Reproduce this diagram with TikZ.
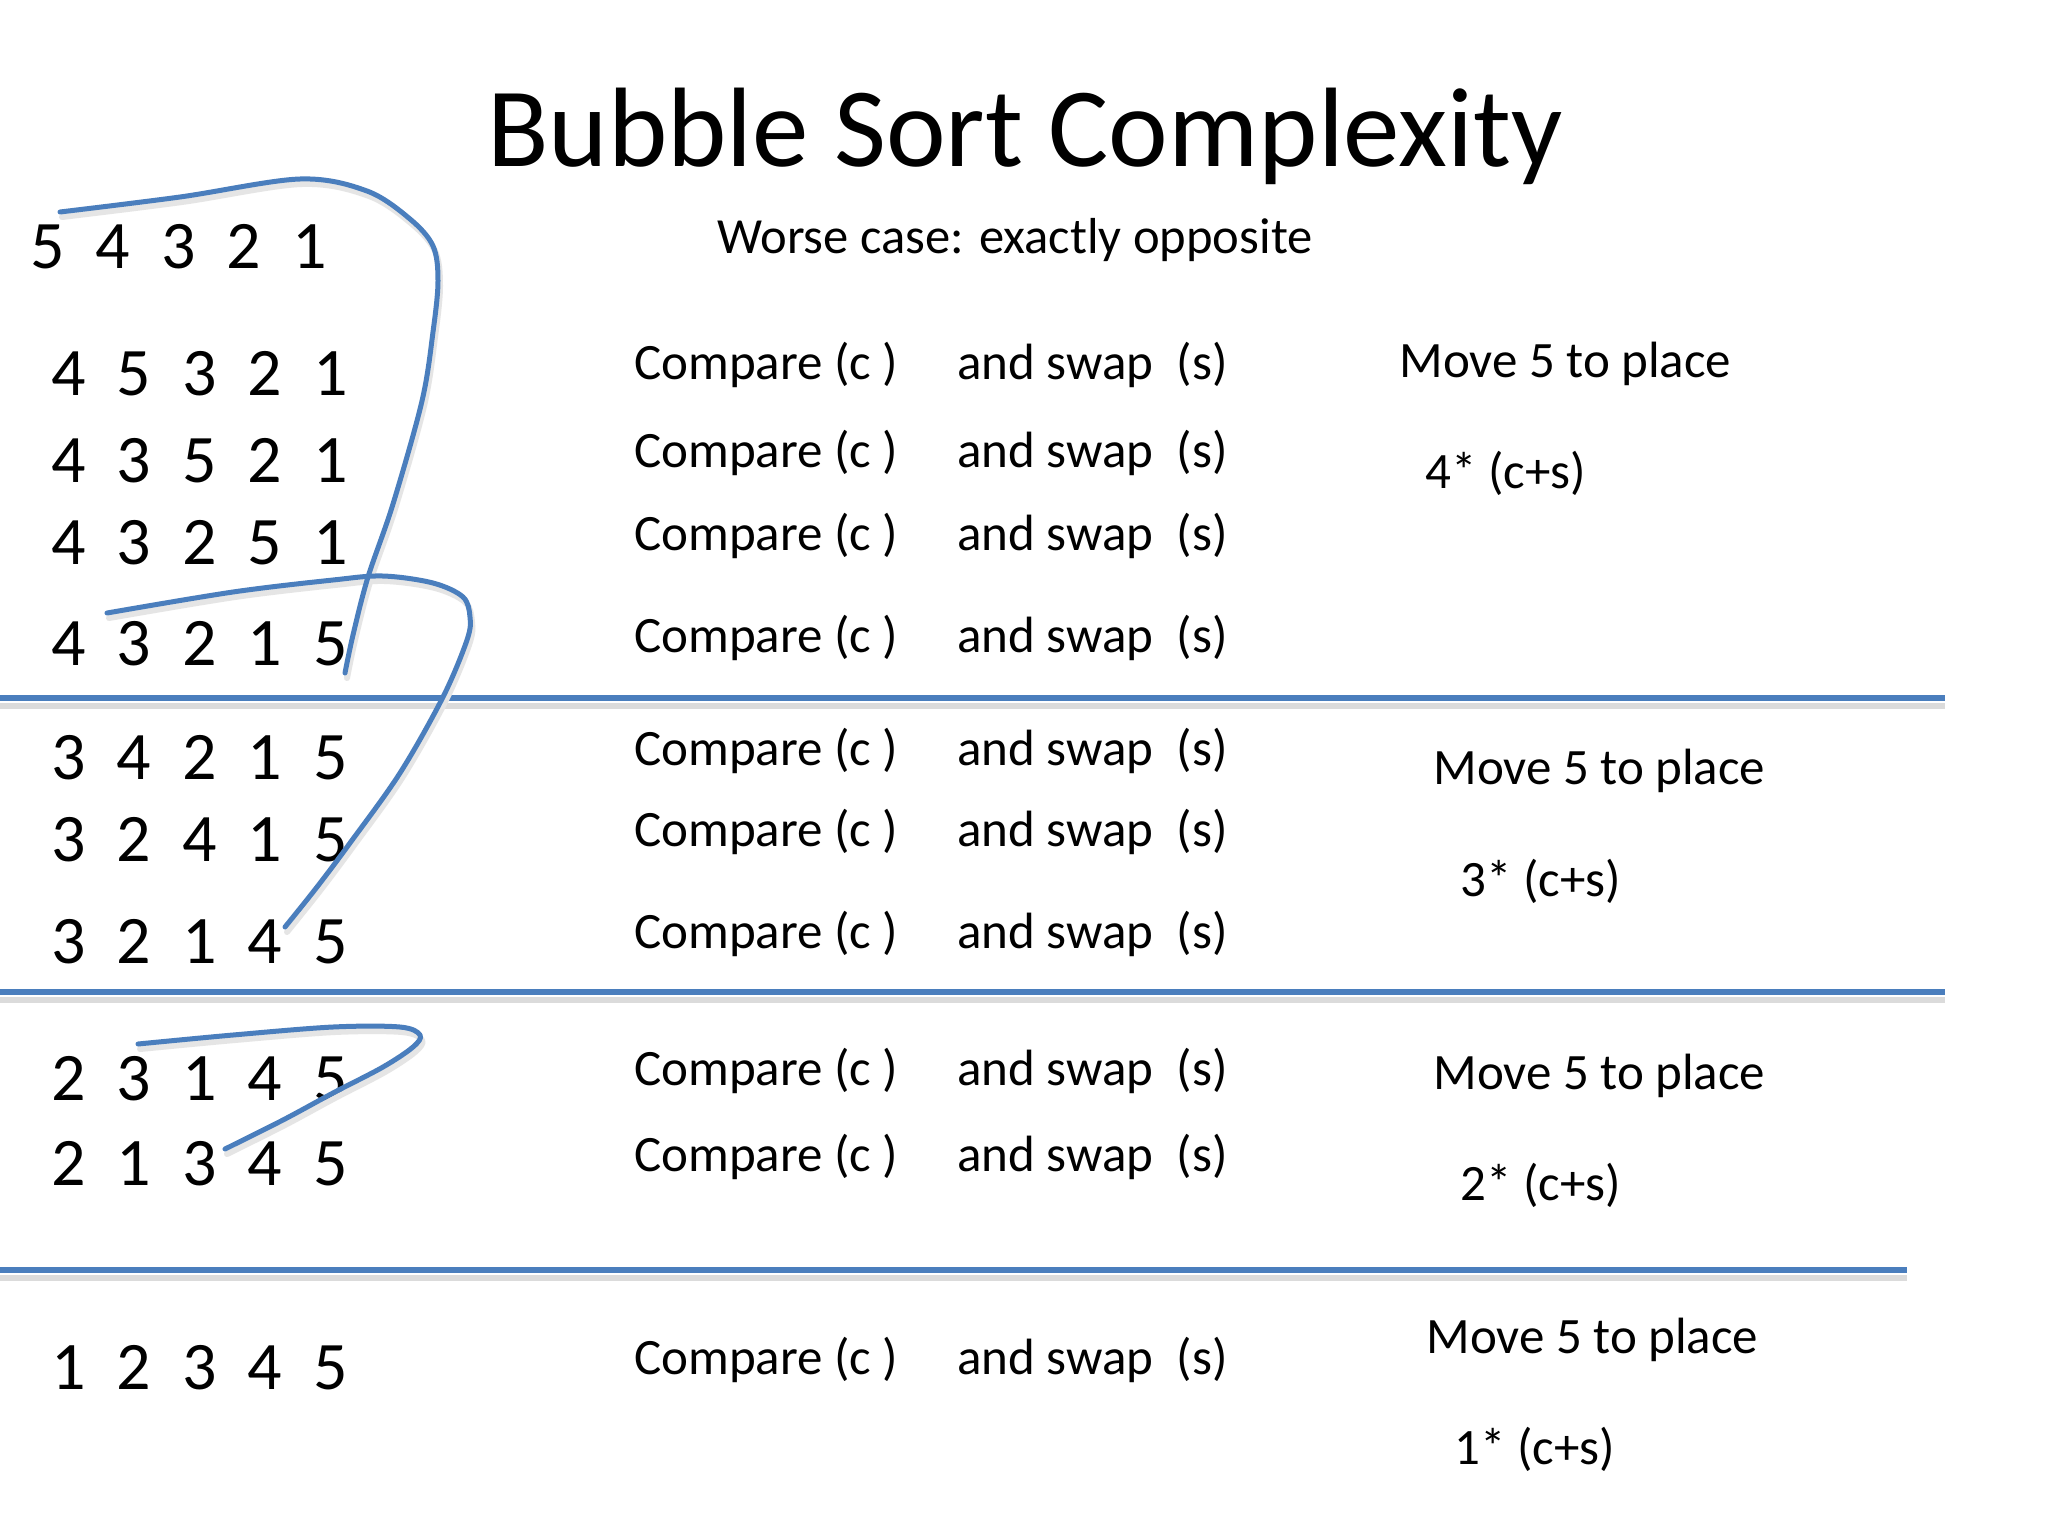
\documentclass[tikz,border=0pt]{standalone}
\usepackage{fontspec}
\setmainfont{Carlito}
\definecolor{lineblue}{RGB}{74,126,189}
\newcommand\dg{\hspace{15.5pt}}
\newcommand\drow[5]{#1\dg#2\dg#3\dg#4\dg#5}
\begin{document}
\begin{tikzpicture}[x=0.5pt,y=-0.5pt,
  txt/.style={inner sep=0pt, anchor=base west, font=\fontsize{25.5pt}{30pt}\selectfont},
  dig/.style={inner sep=0pt, anchor=base west, font=\fontsize{34pt}{40pt}\selectfont},
  sepline/.style={draw=lineblue, line width=2.6pt},
  sepshadow/.style={draw=black!14, line width=3pt},
  stroke/.style={draw=lineblue, line width=2.5pt, line cap=round, line join=round},
  strokeshadow/.style={draw=black!10, line width=3pt, line cap=round, line join=round}]
\useasboundingbox[fill=white] (0,0) rectangle (2048,1536);

% title
\node[inner sep=0pt, anchor=base, font=\fontsize{56.5pt}{60pt}\selectfont] (title) at (1025,166) {Bubble Sort Complexity};
\node[inner sep=0pt, anchor=base west, font=\fontsize{25.3pt}{30pt}\selectfont] (sub) at (717,253) {Worse case: exactly opposite};

% separators
\draw[sepshadow] (0,706) -- (1945,706);
\draw[sepline] (0,698) -- (1945,698);
\draw[sepshadow] (0,1000) -- (1945,1000);
\draw[sepline] (0,992) -- (1945,992);
\draw[sepshadow] (0,1278) -- (1907,1278);
\draw[sepline] (0,1270) -- (1907,1270);

% digit rows
\node[dig] (r0) at (30,268) {\drow54321};
\node[dig] (r1) at (51,395) {\drow45321};
\node[dig] (r2) at (51,482) {\drow43521};
\node[dig] (r3) at (51,564) {\drow43251};
\node[dig] (r4) at (51,665) {\drow43215};
\node[dig] (r5) at (51,779) {\drow34215};
\node[dig] (r6) at (51,861) {\drow32415};
\node[dig] (r7) at (51,963) {\drow32145};
\node[dig] (r8) at (51,1100) {\drow23145};
\node[dig] (r9) at (51,1185) {\drow21345};
\node[dig] (r10) at (51,1389) {\drow12345};

% compare / swap columns
\foreach \y [count=\i] in {379,467,550,652,765,846,948,1085,1171,1374}{
  \node[txt] (c\i) at (634,\y) {Compare (c )};
  \node[txt] (s\i) at (957,\y) {and swap\ \ (s)};
}

% right column
\node[txt] (m1) at (1399,377) {Move 5 to place};
\node[txt] (k1) at (1425,488) {4* (c+s)};
\node[txt] (m2) at (1433,784) {Move 5 to place};
\node[txt] (k2) at (1460,896) {3* (c+s)};
\node[txt] (m3) at (1433,1089) {Move 5 to place};
\node[txt] (k3) at (1460,1200) {2* (c+s)};
\node[txt] (m4) at (1426,1353) {Move 5 to place};
\node[txt] (k4) at (1454,1464) {1* (c+s)};

% freehand strokes
\def\curveA{(60,212) (180,197) (300,179) (367,191) (410,219) (433,246) (438,281) (433,332) (422,401) (393,504) (368,577) (353,635) (345,673)}
\def\curveB{(107,613) (233,592) (333,580) (383,576) (433,583) (463,597) (470,617) (467,640) (443,697) (400,773) (350,843) (317,887) (285,927)}
\def\curveC{(138,1044) (233,1035) (333,1027) (400,1027) (420,1035) (413,1047) (383,1067) (333,1093) (283,1120) (225,1149)}
\begin{scope}[shift={(2,5)}]
\draw[strokeshadow] plot[smooth, tension=0.55] coordinates {\curveA};
\draw[strokeshadow] plot[smooth, tension=0.55] coordinates {\curveB};
\draw[strokeshadow] plot[smooth, tension=0.55] coordinates {\curveC};
\end{scope}
\draw[stroke] plot[smooth, tension=0.55] coordinates {\curveA};
\draw[stroke] plot[smooth, tension=0.55] coordinates {\curveB};
\draw[stroke] plot[smooth, tension=0.55] coordinates {\curveC};
\end{tikzpicture}
\end{document}
